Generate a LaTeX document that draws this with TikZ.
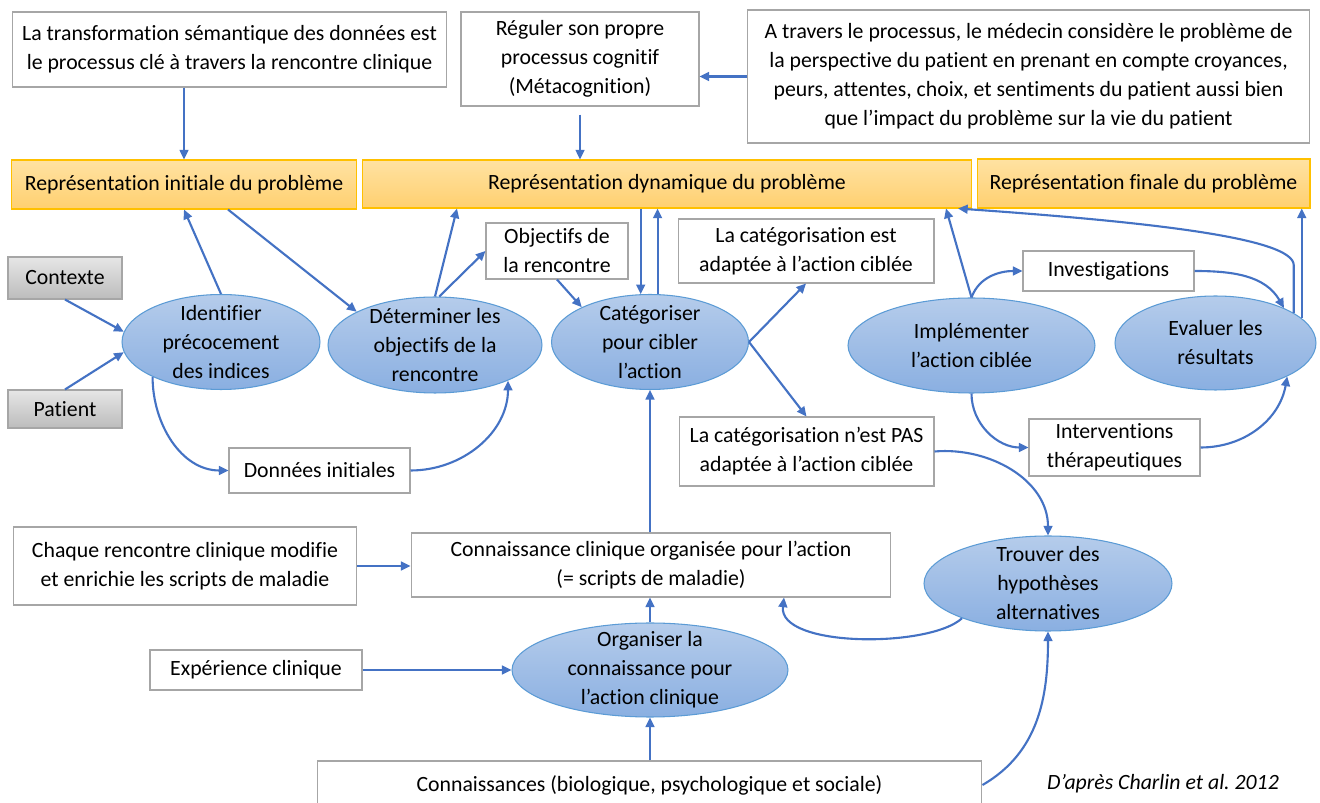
\documentclass[tikz,border=0pt]{standalone}
\usepackage{fontspec}
\setmainfont{Carlito}[Ligatures=NoCommon]
\usepackage{tikz}
\usetikzlibrary{arrows.meta,shapes.geometric}
\definecolor{linkblue}{RGB}{68,114,196}
\definecolor{ellborder}{RGB}{91,155,213}
\definecolor{elltop}{RGB}{181,204,235}
\definecolor{ellbot}{RGB}{138,175,225}
\definecolor{boxgray}{RGB}{166,166,166}
\definecolor{probborder}{RGB}{255,192,0}
\definecolor{probtop}{RGB}{255,226,162}
\definecolor{probbot}{RGB}{255,208,112}
\definecolor{inputtop}{RGB}{230,230,230}
\definecolor{inputbot}{RGB}{188,188,188}
\newcommand\diagfont{\fontsize{12.4}{16.5}\selectfont}
\tikzset
{
  textbox/.style  = {rectangle, draw=boxgray, line width=0.6pt, fill=white, align=center, inner sep=0pt},
  probbox/.style  = {rectangle, draw=probborder, line width=0.6pt, top color=probtop, bottom color=probbot, align=center, inner sep=0pt},
  inputbox/.style = {rectangle, draw=boxgray, line width=0.6pt, top color=inputtop, bottom color=inputbot, align=center, inner sep=0pt},
  procnode/.style = {ellipse, draw=ellborder, line width=0.6pt, top color=elltop, bottom color=ellbot, inner sep=0pt, label={[align=center]center:#1}},
  link/.style     = {->, draw=linkblue, line width=1.2pt}
}
\begin{document}
\begin{tikzpicture}[x=0.02cm, y=-0.02cm, font=\diagfont, >={Triangle[length=5.5pt,width=5pt]}]
  \path[fill=white, use as bounding box] (0,0) rectangle (1320,803);

  \node[textbox, minimum width=8.7cm, minimum height=1.5cm] (transfo) at (229.5,49.5) {La transformation sémantique des données est\\le processus clé à travers la rencontre clinique};
  \node[textbox, minimum width=4.76cm, minimum height=1.88cm] (reguler) at (580,59) {Réguler son propre\\processus cognitif\\(Métacognition)};
  \node[textbox, minimum width=11.26cm, minimum height=2.66cm] (patientview) at (1028.5,76.5) {A travers le processus, le médecin considère le problème de\\la perspective du patient en prenant en compte croyances,\\peurs, attentes, choix, et sentiments du patient aussi bien\\que l’impact du problème sur la vie du patient};

  \node[probbox, minimum width=6.92cm, minimum height=0.98cm] (repinit) at (184,184.5) {Représentation initiale du problème};
  \node[probbox, minimum width=12.2cm, minimum height=0.96cm] (repdyn) at (667,184) {Représentation dynamique du problème};
  \node[probbox, minimum width=6.66cm, minimum height=0.98cm] (repfin) at (1143.5,183.5) {Représentation finale du problème};

  \node[inputbox, minimum width=2.28cm, minimum height=0.84cm] (contexte) at (65,278) {Contexte};
  \node[inputbox, minimum width=2.28cm, minimum height=0.76cm] (patient) at (65,409) {Patient};

  \node[procnode={Identifier\\précocement\\des indices}, minimum width=3.96cm, minimum height=1.9cm] (identifier) at (221,342) {};
  \node[procnode={Déterminer les\\objectifs de la\\rencontre}, minimum width=4.28cm, minimum height=1.92cm] (determiner) at (435,345) {};
  \node[procnode={Catégoriser\\pour cibler\\l’action}, minimum width=3.94cm, minimum height=1.9cm] (categoriser) at (650,342) {};
  \node[procnode={Implémenter\\l’action ciblée}, minimum width=4.94cm, minimum height=1.9cm] (implementer) at (971.5,345.5) {};
  \node[procnode={Evaluer les\\résultats}, minimum width=4.02cm, minimum height=1.88cm] (evaluer) at (1215.5,343) {};
  \node[procnode={Trouver des\\hypothèses\\alternatives}, minimum width=4.96cm, minimum height=1.9cm] (trouver) at (1048,583.5) {};
  \node[procnode={Organiser la\\connaissance pour\\l’action clinique}, minimum width=5.52cm, minimum height=1.88cm] (organiser) at (650,670) {};

  \node[textbox, minimum width=2.84cm, minimum height=1.12cm] (objectifs) at (557,251) {Objectifs de\\la rencontre};
  \node[textbox, minimum width=5.12cm, minimum height=1.28cm] (catok) at (806,251) {La catégorisation est\\adaptée à l’action ciblée};
  \node[textbox, minimum width=5.1cm, minimum height=1.38cm] (catnok) at (806.5,451.5) {La catégorisation n’est PAS\\adaptée à l’action ciblée};
  \node[textbox, minimum width=3.62cm, minimum height=0.9cm] (donnees) at (319.5,470.5) {Données initiales};
  \node[textbox, minimum width=3.42cm, minimum height=0.8cm] (investig) at (1108.5,271) {Investigations};
  \node[textbox, minimum width=3.42cm, minimum height=1.14cm] (interv) at (1114.5,447.5) {Interventions\\thérapeutiques};
  \node[textbox, minimum width=6.88cm, minimum height=1.56cm] (chaque) at (185,566) {Chaque rencontre clinique modifie\\et enrichie les scripts de maladie};
  \node[textbox, minimum width=9.6cm, minimum height=1.28cm] (connclin) at (651,565) {Connaissance clinique organisée pour l’action\\(= scripts de maladie)};
  \node[textbox, minimum width=4.24cm, minimum height=0.8cm] (experience) at (256,670) {Expérience clinique};
  \node[textbox, minimum width=13.3cm, minimum height=0.96cm] (connaiss) at (649.5,785) {Connaissances (biologique, psychologique et sociale)};
  \node[font=\diagfont\itshape] (source) at (1163,784) {D’après Charlin et al.\ 2012};

  \draw[link] (transfo.south -| repinit.north) -- (repinit.north);
  \draw[link] ([yshift=-0.16cm]reguler.south) -- (reguler.south |- repdyn.north);
  \draw[link] (patientview.west) -- (patientview.west -| reguler.east);
  \draw[link] (contexte.south) -- (identifier.174);
  \draw[link] (patient.north) -- (identifier.186);
  \draw[link] (identifier.north) -- (repinit.south);
  \draw[link] ([xshift=0.88cm]repinit.south) -- (determiner.157);
  \draw[link] (identifier.207) to[out=-90,in=180] (donnees.west);
  \draw[link] (donnees.east) to[out=0,in=-90] (determiner.334);
  \draw[link] (determiner.north) -- (457,0 |- repdyn.south);
  \draw[link] (determiner.85) -- (objectifs.west);
  \draw[link] (objectifs.south) -- (categoriser.153);
  \draw[link] (categoriser.101 |- repdyn.south) -- (categoriser.101);
  \draw[link] (categoriser.81) -- (categoriser.81 |- repdyn.south);
  \draw[link] (categoriser.east) -- (catok.south);
  \draw[link] (categoriser.east) -- (catnok.north);
  \draw[link] (catnok.east) to[out=5,in=90] (trouver.north);
  \draw[link] (trouver.202) .. controls (930,648) and (778,648) .. (784,0 |- connclin.south);
  \draw[link] (connaiss.east) to[out=30,in=-90] (trouver.south);
  \draw[link] (chaque.east) -- (chaque.east -| connclin.west);
  \draw[link] (experience.east) -- (organiser.west);
  \draw[link] (organiser.north) -- (organiser.north |- connclin.south);
  \draw[link] (connaiss.north -| organiser.south) -- (organiser.south);
  \draw[link] (connclin.north -| categoriser.south) -- (categoriser.south);
  \draw[link] (implementer.north) -- (946,0 |- repdyn.south);
  \draw[link] (implementer.north) to[out=70,in=180] (investig.west);
  \draw[link] (investig.east) to[out=0,in=120] (evaluer.27);
  \draw[link] (evaluer.21) -- (evaluer.21 |- 0,265) .. controls (1293,238) and (1150,222) .. (958,0 |- repdyn.south);
  \draw[link] (evaluer.16) -- (evaluer.16 |- repfin.south);
  \draw[link] (implementer.south) to[out=-90,in=180] (interv.west);
  \draw[link] (interv.east) to[out=0,in=-100] (evaluer.-25);
\end{tikzpicture}
\end{document}
